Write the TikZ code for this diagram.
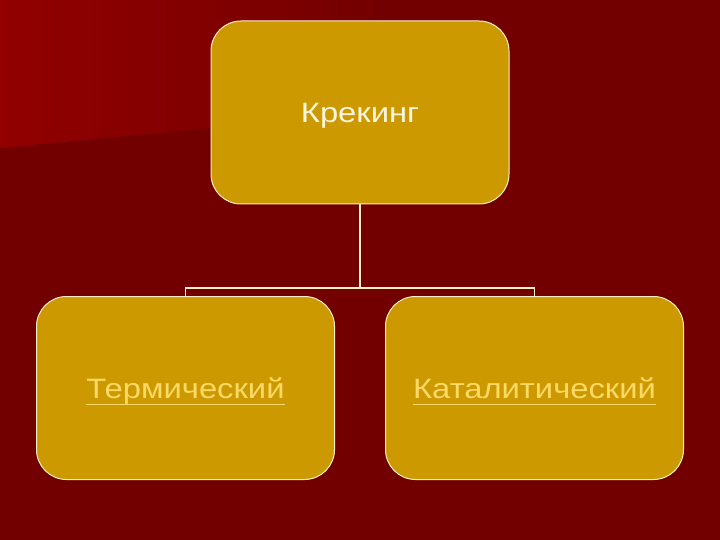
\documentclass[tikz,border=0pt]{standalone}
\usepackage{fontspec}
\setmainfont{Liberation Sans}
\usetikzlibrary{positioning}

\definecolor{slidebg}{RGB}{115,0,0}
\definecolor{slidelight}{RGB}{146,0,0}
\definecolor{boxfill}{RGB}{204,153,0}
\definecolor{boxline}{RGB}{255,240,200}
\definecolor{toptext}{RGB}{255,246,222}
\definecolor{linktext}{RGB}{255,217,102}

\newcommand{\widetext}[1]{\scalebox{1.17}[1]{#1}}
\newcommand{\ulink}[1]{\setbox0\hbox{#1}\rlap{\rule[-7pt]{\wd0}{1.3pt}}\box0}

\begin{document}
\begin{tikzpicture}[x=1pt,y=-1pt,
            box/.style={draw=boxline,fill=boxfill,line width=1pt,rounded corners=30pt,
                minimum width=298pt,minimum height=183pt,inner sep=0pt,
                text height=20pt,text depth=0pt,
                font=\fontsize{28}{34}\selectfont},
            link/.style={box,text=linktext},
            conn/.style={draw=boxline,line width=1.5pt}]

        % Background
        \fill[slidebg] (0,0) rectangle (720,540);
        \shade[left color=slidelight,right color=slidebg]
            (0,0) -- (380,0) -- (340,116) -- (0,148) -- cycle;
        \useasboundingbox (0,0) rectangle (720,540);

        % Define vertices
        \node[box,text=toptext] (krek) at (360,112.5) {\widetext{Крекинг}};
        \node[link] (term) at (185.5,388) {\widetext{\ulink{Термический}}};
        \node[link] (katal) at (534.5,388) {\widetext{\ulink{Каталитический}}};
        \coordinate (split) at (360,288);

        % Draw edges
        \draw[conn] (krek) -- (split) -| (term);
        \draw[conn] (split) -| (katal);

        \end{tikzpicture}
\end{document}
